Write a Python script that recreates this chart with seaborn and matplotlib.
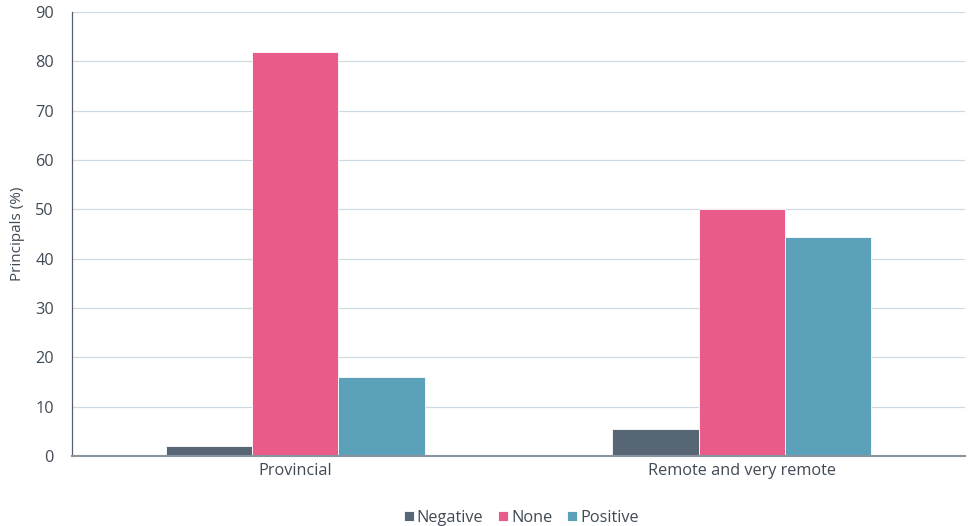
import pandas as pd
import matplotlib
matplotlib.use("Agg")
import matplotlib.pyplot as plt
import seaborn as sns

# data
regions = ["Provincial", "Remote and very remote"]
impacts = ["Negative", "None", "Positive"]
negative = [2.1, 5.5]
none = [82.0, 50.0]
positive = [16.0, 44.4]

df = pd.DataFrame({
    "Region": regions * 3,
    "Impact": [i for i in impacts for _ in regions],
    "Value": negative + none + positive,
})

colors = {"Negative": "#566675", "None": "#E95C8A", "Positive": "#5BA1BA"}

sns.set_style("white")
plt.rcParams['font.family'] = ['Open Sans', 'DejaVu Sans']
txt = "#3F4A55"

fig = plt.figure(figsize=(9.68, 5.26), dpi=100)
ax = fig.add_axes([0.0744, 0.133, 0.9226, 0.844])

sns.barplot(data=df, x="Region", y="Value", hue="Impact", order=regions,
            hue_order=impacts, palette=colors, width=0.58, saturation=1,
            edgecolor="white", linewidth=0.6, ax=ax, legend=True)

ax.set_xlim(-0.5, 1.5)
ax.set_ylim(0, 90)
ax.set_yticks(range(0, 91, 10))
ax.yaxis.grid(True, color="#CDD8E0", linewidth=0.9)
ax.set_axisbelow(True)

ax.set_xlabel("")
ax.set_ylabel("Principals (%)", fontsize=11, color=txt, labelpad=7)
ax.tick_params(axis="both", labelsize=11.7, colors=txt, length=0)
ax.tick_params(axis="y", pad=13)
ax.tick_params(axis="x", pad=5)

for s in ["top", "right"]:
    ax.spines[s].set_visible(False)
ax.spines["left"].set_color("#55606A")
ax.spines["left"].set_linewidth(0.9)
ax.spines["bottom"].set_color("#8A949C")
ax.spines["bottom"].set_linewidth(1.5)

ax.legend(title=None, loc="lower center", bbox_to_anchor=(0.503, -0.19),
          ncol=3, frameon=False, fontsize=11.7, handlelength=0.6,
          handleheight=0.6, handletextpad=0.2, columnspacing=0.9,
          labelcolor=txt)

fig.savefig("out.png", dpi=100)
